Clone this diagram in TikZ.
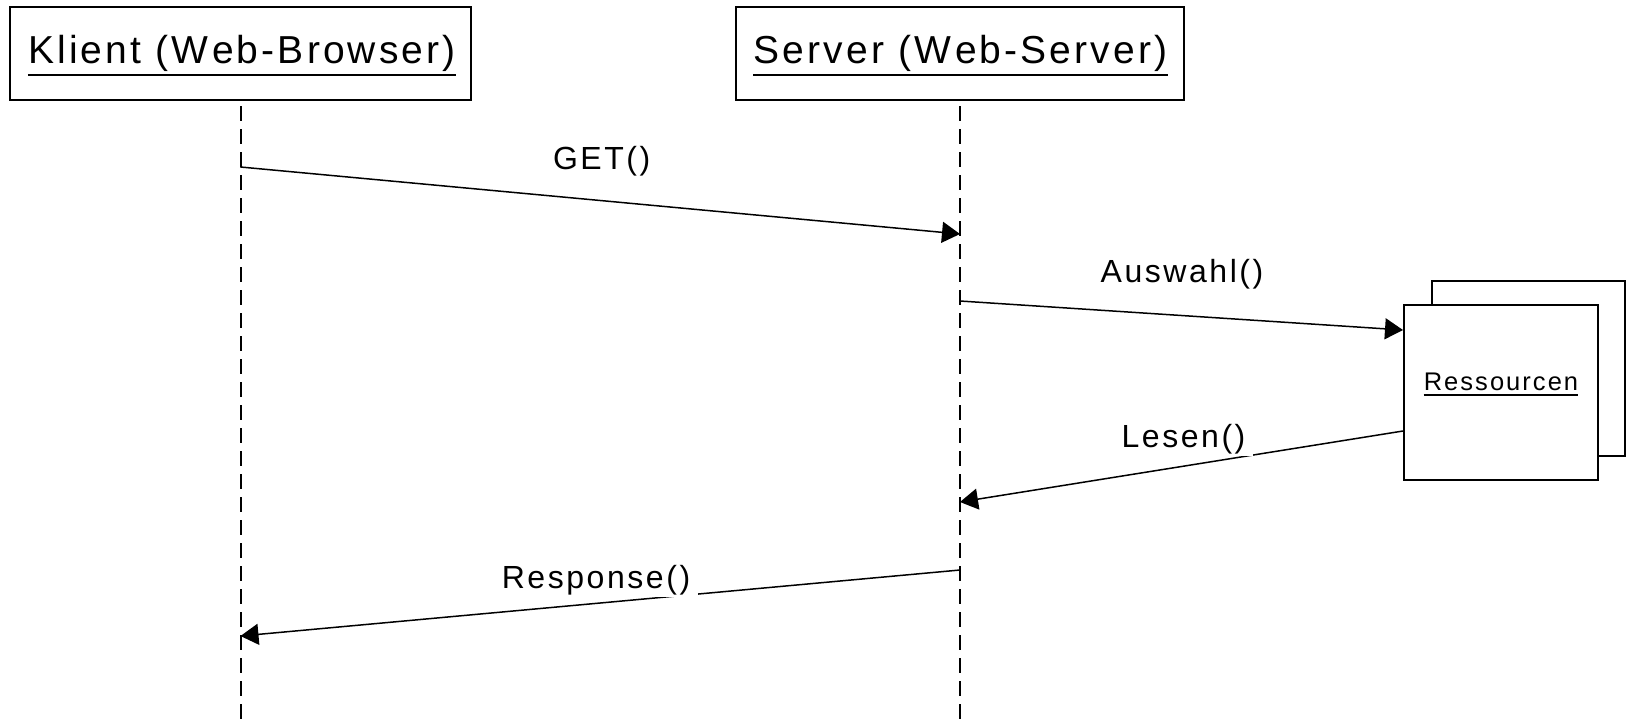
\documentclass[tikz,border=0pt]{standalone}
\usepackage{fontspec}
\setmainfont{Liberation Sans}[LetterSpace=8]
\usetikzlibrary{arrows.meta,calc}

\begin{document}
\begin{tikzpicture}[x=1pt,y=-1pt,
  box/.style={draw,line width=2pt,inner sep=0pt,fill=white},
  title/.style={font=\fontsize{39}{44}\selectfont,inner sep=0pt,anchor=base},
  msglabel/.style={font=\fontsize{32}{36}\selectfont,fill=white,inner xsep=8pt,inner ysep=2pt,anchor=base},
  msg/.style={line width=1.5pt,-{Triangle[length=18pt,width=21pt]}},
  lifeline/.style={line width=2pt,dash pattern=on 15pt off 8pt},
  uline/.style={line width=2pt}]

\useasboundingbox (0,0) rectangle (1626,724);

% participants
\node[box,minimum width=461pt,minimum height=93pt] (kl) at (240.5,53.5) {};
\node[title] (kltxt) at (242,63) {Klient (W\kern4pt eb-Browser)};
\draw[uline] ([yshift=-12pt]kltxt.base west) -- ([yshift=-12pt]kltxt.base east);

\node[box,minimum width=448pt,minimum height=93pt] (srv) at (960,53.5) {};
\node[title] (srvtxt) at (960.5,63) {Server (W\kern4pt eb-Server)};
\draw[uline] ([yshift=-12pt]srvtxt.base west) -- ([yshift=-12pt]srvtxt.base east);

% lifelines
\coordinate (klend) at (kl.south |- 0,724);
\coordinate (srvend) at (srv.south |- 0,724);
\draw[lifeline] ([yshift=-5pt]kl.south) -- (klend);
\draw[lifeline] ([yshift=-5pt]srv.south) -- (srvend);

% resource stack
\node[box,minimum width=193pt,minimum height=175pt] (resback) at (1528.5,368.5) {};
\node[box,minimum width=194pt,minimum height=175pt] (res) at (1501,392.5) {};
\node[font=\fontsize{25.5}{30}\selectfont,inner sep=0pt,anchor=base] (restxt) at (1501,390) {Ressourcen};
\draw[line width=1.5pt] ([yshift=-5pt]restxt.base west) -- ([yshift=-5pt]restxt.base east);

% message end points
\coordinate (getA) at (kl.south |- 0,167);
\coordinate (getB) at (srv.south |- 0,234);
\coordinate (ausA) at (srv.south |- 0,301);
\coordinate (ausB) at (res.west |- 0,330);
\coordinate (lesA) at (res.west |- 0,431);
\coordinate (lesB) at (srv.south |- 0,502);
\coordinate (rspA) at (srv.south |- 0,570);
\coordinate (rspB) at (kl.south |- 0,636);

% messages
\draw[msg] (getA) -- (getB);
\draw[msg] (ausA) -- (ausB);
\draw[msg] (lesA) -- (lesB);
\draw[msg] (rspA) -- (rspB);

\node[msglabel] (getlbl) at (601.7,169.3) {GET()};
\node[msglabel] (auslbl) at (1182,282) {Auswahl()};
\node[msglabel] (leslbl) at (1183.5,447) {Lesen()};
\node[msglabel] (rsplbl) at (596,588) {Response()};
\end{tikzpicture}
\end{document}
